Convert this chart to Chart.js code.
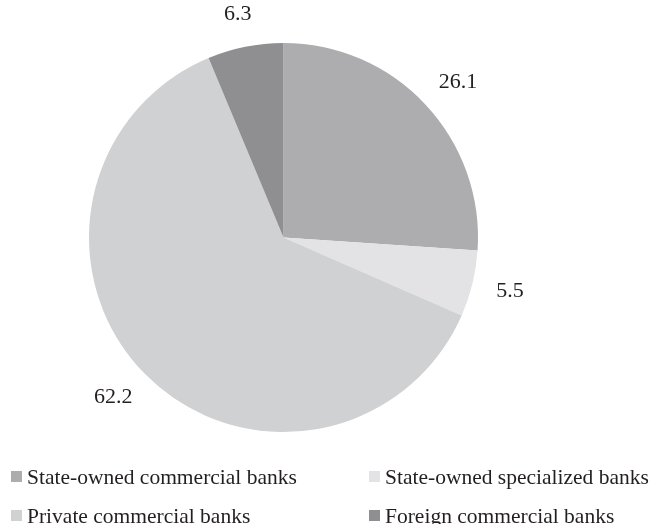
<!DOCTYPE html>
<html>
<head>
<meta charset="utf-8">
<script src="https://cdn.jsdelivr.net/npm/chart.js@4"></script>
<style>
  html, body { margin: 0; padding: 0; background: #fff; }
</style>
</head>
<body>
<canvas id="pie" width="653" height="524"></canvas>
<script>
// --- dados ---
const categories = ['State-owned commercial banks', 'State-owned specialized banks', 'Private commercial banks', 'Foreign commercial banks'];
const shares = [26.1, 5.5, 62.2, 6.3];
const sliceColors = ['#adadaf', '#e3e3e5', '#d0d1d3', '#8f8f92'];

const textColor = '#231f20';
const serif = '"Liberation Serif", "Times New Roman", serif';

// value labels outside the slices + two-column legend at the bottom
const extras = {
  id: 'extras',
  afterDatasetsDraw(chart) {
    const ctx = chart.ctx;
    const meta = chart.getDatasetMeta(0);
    ctx.save();
    ctx.fillStyle = textColor;

    // labels: anchor the near edge of the text at a fixed distance from the rim
    ctx.font = '22px ' + serif;
    ctx.textAlign = 'center';
    ctx.textBaseline = 'middle';
    meta.data.forEach((arc, i) => {
      const mid = (arc.startAngle + arc.endAngle) / 2;
      const c = Math.cos(mid), s = Math.sin(mid);
      const r = arc.outerRadius + 25;
      const txt = shares[i].toFixed(1);
      const w = ctx.measureText(txt).width;
      const x = arc.x + c * r + c * w / 2;
      const y = arc.y + s * r + s * 8;
      ctx.fillText(txt, x, y);
    });

    // legend
    ctx.font = '21.5px ' + serif;
    ctx.textAlign = 'left';
    ctx.textBaseline = 'alphabetic';
    const colX = [11, 369];
    const rowY = [484, 523];
    categories.forEach((name, i) => {
      const x = colX[i % 2];
      const y = rowY[Math.floor(i / 2)];
      ctx.fillStyle = sliceColors[i];
      ctx.fillRect(x, y - 13, 11, 11);
      ctx.fillStyle = textColor;
      ctx.fillText(name, x + 16, y);
    });
    ctx.restore();
  }
};

new Chart(document.getElementById('pie'), {
  type: 'pie',
  data: {
    labels: categories,
    datasets: [{
      data: shares,
      backgroundColor: sliceColors,
      borderWidth: 0
    }]
  },
  options: {
    responsive: false,
    animation: false,
    layout: { padding: { left: 89, right: 175, top: 43, bottom: 92 } },
    plugins: { legend: { display: false }, tooltip: { enabled: false } }
  },
  plugins: [extras]
});
</script>
</body>
</html>
